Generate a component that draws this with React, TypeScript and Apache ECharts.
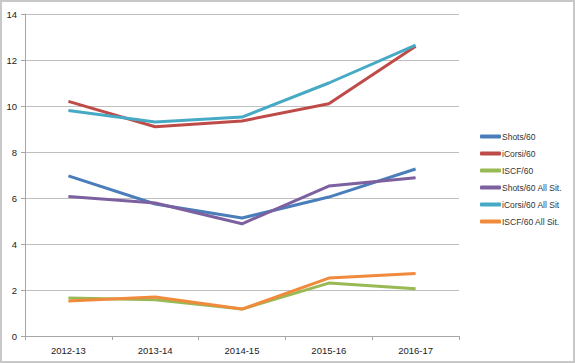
import React, { useEffect, useRef } from "react";
import * as echarts from "echarts";

const categories = ["2012-13", "2013-14", "2014-15", "2015-16", "2016-17"];
const shots60 = [6.96, 5.74, 5.13, 6.04, 7.26];
const icorsi60 = [10.2, 9.1, 9.35, 10.1, 12.6];
const iscf60 = [1.65, 1.58, 1.17, 2.3, 2.05];
const shots60All = [6.06, 5.78, 4.88, 6.52, 6.88];
const icorsi60All = [9.8, 9.3, 9.52, 11.0, 12.65];
const iscf60All = [1.52, 1.7, 1.17, 2.52, 2.72];

const seriesNames = [
  "Shots/60",
  "iCorsi/60",
  "ISCF/60",
  "Shots/60 All Sit.",
  "iCorsi/60 All Sit",
  "ISCF/60 All Sit.",
];
const seriesData = [shots60, icorsi60, iscf60, shots60All, icorsi60All, iscf60All];
const colors = ["#4A7EBB", "#BE4B48", "#98B954", "#7D60A0", "#46AAC5", "#F08A3C"];

export default function App() {
  const ref = useRef<HTMLDivElement>(null);
  useEffect(() => {
    if (!ref.current) return;
    const chart = echarts.init(ref.current, undefined, { renderer: "svg" });
    chart.setOption({
      animation: false,
      backgroundColor: "#ffffff",
      color: colors,
      textStyle: { fontFamily: "Liberation Sans" },
      grid: { left: 25, right: 116, top: 14, bottom: 27 },
      graphic: [
        {
          type: "rect",
          shape: { x: 1, y: 1, width: 573, height: 361 },
          style: { fill: "none", stroke: "#c8c8c8", lineWidth: 2 },
          silent: true,
        },
      ],
      legend: {
        orient: "vertical",
        left: 475,
        top: 127,
        itemWidth: 21,
        itemHeight: 4,
        itemGap: 8,
        icon: "roundRect",
        textStyle: { fontSize: 8.5, color: "#333", padding: [0, 0, 0, -4] },
        data: seriesNames,
      },
      xAxis: {
        type: "category",
        data: categories,
        boundaryGap: true,
        axisLine: { lineStyle: { color: "#a6a6a6", width: 1 } },
        axisTick: { show: true, length: 4, lineStyle: { color: "#a6a6a6" } },
        axisLabel: { fontSize: 9.5, color: "#222", margin: 9 },
      },
      yAxis: {
        type: "value",
        min: 0,
        max: 14,
        interval: 2,
        axisLine: { show: true, lineStyle: { color: "#a6a6a6", width: 1 } },
        axisTick: { show: true, length: 4, lineStyle: { color: "#a6a6a6" } },
        axisLabel: { fontSize: 9.5, color: "#222", margin: 8 },
        splitLine: { lineStyle: { color: "#bfbfbf", width: 1.2 } },
      },
      series: seriesNames.map((name, i) => ({
        name,
        type: "line",
        data: seriesData[i],
        symbol: "none",
        lineStyle: { width: 3, color: colors[i] },
        itemStyle: { color: colors[i] },
      })),
    });
    return () => chart.dispose();
  }, []);
  return (
    <div style={{ position: "fixed", left: 0, top: 0, width: 575, height: 363 }}>
      <div ref={ref} style={{ width: 575, height: 363 }} />
    </div>
  );
}
